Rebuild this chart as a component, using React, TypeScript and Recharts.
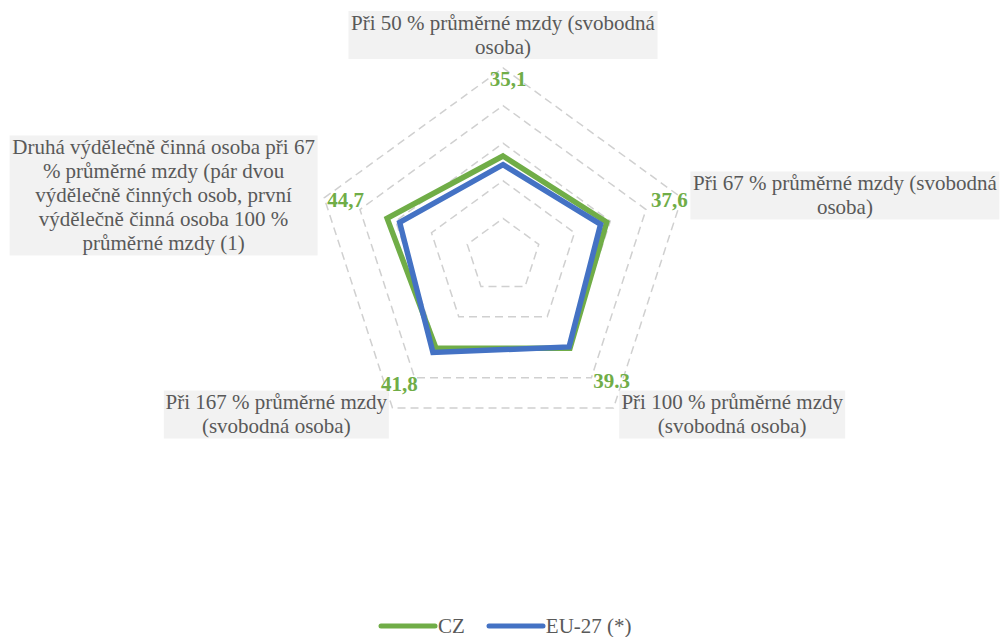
import { RadarChart, Radar, PolarGrid, PolarAngleAxis, PolarRadiusAxis, Legend } from "recharts";

const categories = [
  "Při 50 % průměrné mzdy (svobodná\nosoba)",
  "Při 67 % průměrné mzdy (svobodná\nosoba)",
  "Při 100 % průměrné mzdy\n(svobodná osoba)",
  "Při 167 % průměrné mzdy\n(svobodná osoba)",
  "Druhá výdělečně činná osoba při 67\n% průměrné mzdy (pár dvou\nvýdělečně činných osob, první\nvýdělečně činná osoba 100 %\nprůměrné mzdy (1)",
];
const czValues = [26.6, 29.0, 30.3, 30.3, 32.4];
const euValues = [24.3, 27.3, 29.9, 31.7, 28.9];
const czLabels = ["35,1", "37,6", "39.3", "41,8", "44,7"];
const seriesNames = ["CZ", "EU-27 (*)"];
const radiusMax = 50;

const FONT = '"Liberation Serif", "Times New Roman", serif';
const TEXT = "#595959";
const GREEN = "#70AD47";
const BLUE = "#4472C4";

// label box widths and value label offsets (style only)
const boxWidths = [309, 309, 226, 225, 308];
const valueOffsets = [
  { dx: 5, dy: 18, anchor: "middle" },
  { dx: 6, dy: 9, anchor: "end" },
  { dx: -2, dy: -20, anchor: "middle" },
  { dx: 7, dy: -17, anchor: "middle" },
  { dx: 3, dy: 9, anchor: "start" },
];

const data = categories.map((name, i) => ({
  name,
  cz: czValues[i],
  eu: euValues[i],
  outer: radiusMax,
}));

const LINE_H = 24;

function CategoryTick(props: any) {
  const { x, y, textAnchor, payload, index } = props;
  const lines = String(payload.value).split("\n");
  const w = boxWidths[index];
  const h = lines.length * LINE_H;
  let left = x - w / 2;
  let top = y - 1 - h;
  if (textAnchor === "start") {
    left = x + 1;
    top = y - h / 2;
  } else if (textAnchor === "end") {
    left = x + 1 - w;
    top = y - h / 2;
  }
  return (
    <g>
      <rect x={left} y={top} width={w} height={h} fill="#F2F2F2" />
      <text textAnchor="middle" style={{ fontFamily: FONT }} fontSize={21} fill={TEXT}>
        {lines.map((ln, i) => (
          <tspan key={i} x={left + w / 2} y={top + 18.5 + i * LINE_H}>
            {ln}
          </tspan>
        ))}
      </text>
    </g>
  );
}

function ValueLabel(props: any) {
  const { cx, cy, index } = props;
  const o = valueOffsets[index];
  return (
    <text
      key={index}
      x={cx + o.dx}
      y={cy + o.dy}
      textAnchor={o.anchor}
      style={{ fontFamily: FONT }}
      fontSize={21}
      fontWeight="bold"
      fill={GREEN}
    >
      {czLabels[index]}
    </text>
  );
}

function LegendContent() {
  const colors = [GREEN, BLUE];
  return (
    <div style={{ display: "flex", alignItems: "center", fontFamily: FONT, fontSize: 21, color: TEXT }}>
      {seriesNames.map((n, i) => (
        <div key={n} style={{ display: "flex", alignItems: "center", marginRight: 21 }}>
          <svg width={60} height={8}>
            <line x1={3} y1={4} x2={57} y2={4} stroke={colors[i]} strokeWidth={5} strokeLinecap="round" />
          </svg>
          <span style={{ lineHeight: "24px" }}>{n}</span>
        </div>
      ))}
    </div>
  );
}

export default function App() {
  return (
    <div style={{ position: "absolute", left: 0, top: 0, width: 1001, height: 637, background: "#fff" }}>
      <RadarChart
        width={1001}
        height={637}
        data={data}
        cx={503}
        cy={256}
        outerRadius={188}
        margin={{ top: 0, right: 0, bottom: 0, left: 0 }}
      >
        <PolarGrid gridType="polygon" radialLines={false} stroke="#D0D0D0" strokeWidth={1.5} strokeDasharray="8 5" />
        <PolarRadiusAxis domain={[0, radiusMax]} tickCount={6} tick={false} axisLine={false} />
        <PolarAngleAxis dataKey="name" tick={CategoryTick} tickLine={false} axisLine={false} />
        <Radar
          name="labels"
          dataKey="outer"
          stroke="none"
          fill="none"
          legendType="none"
          dot={ValueLabel}
          isAnimationActive={false}
        />
        <Radar
          name={seriesNames[0]}
          dataKey="cz"
          stroke={GREEN}
          strokeWidth={5.5}
          fill="none"
          fillOpacity={0}
          dot={false}
          isAnimationActive={false}
        />
        <Radar
          name={seriesNames[1]}
          dataKey="eu"
          stroke={BLUE}
          strokeWidth={5.5}
          fill="none"
          fillOpacity={0}
          dot={false}
          isAnimationActive={false}
        />
        <Legend
          content={LegendContent}
          wrapperStyle={{ position: "absolute", left: 378, top: 614, width: "auto" }}
        />
      </RadarChart>
    </div>
  );
}
